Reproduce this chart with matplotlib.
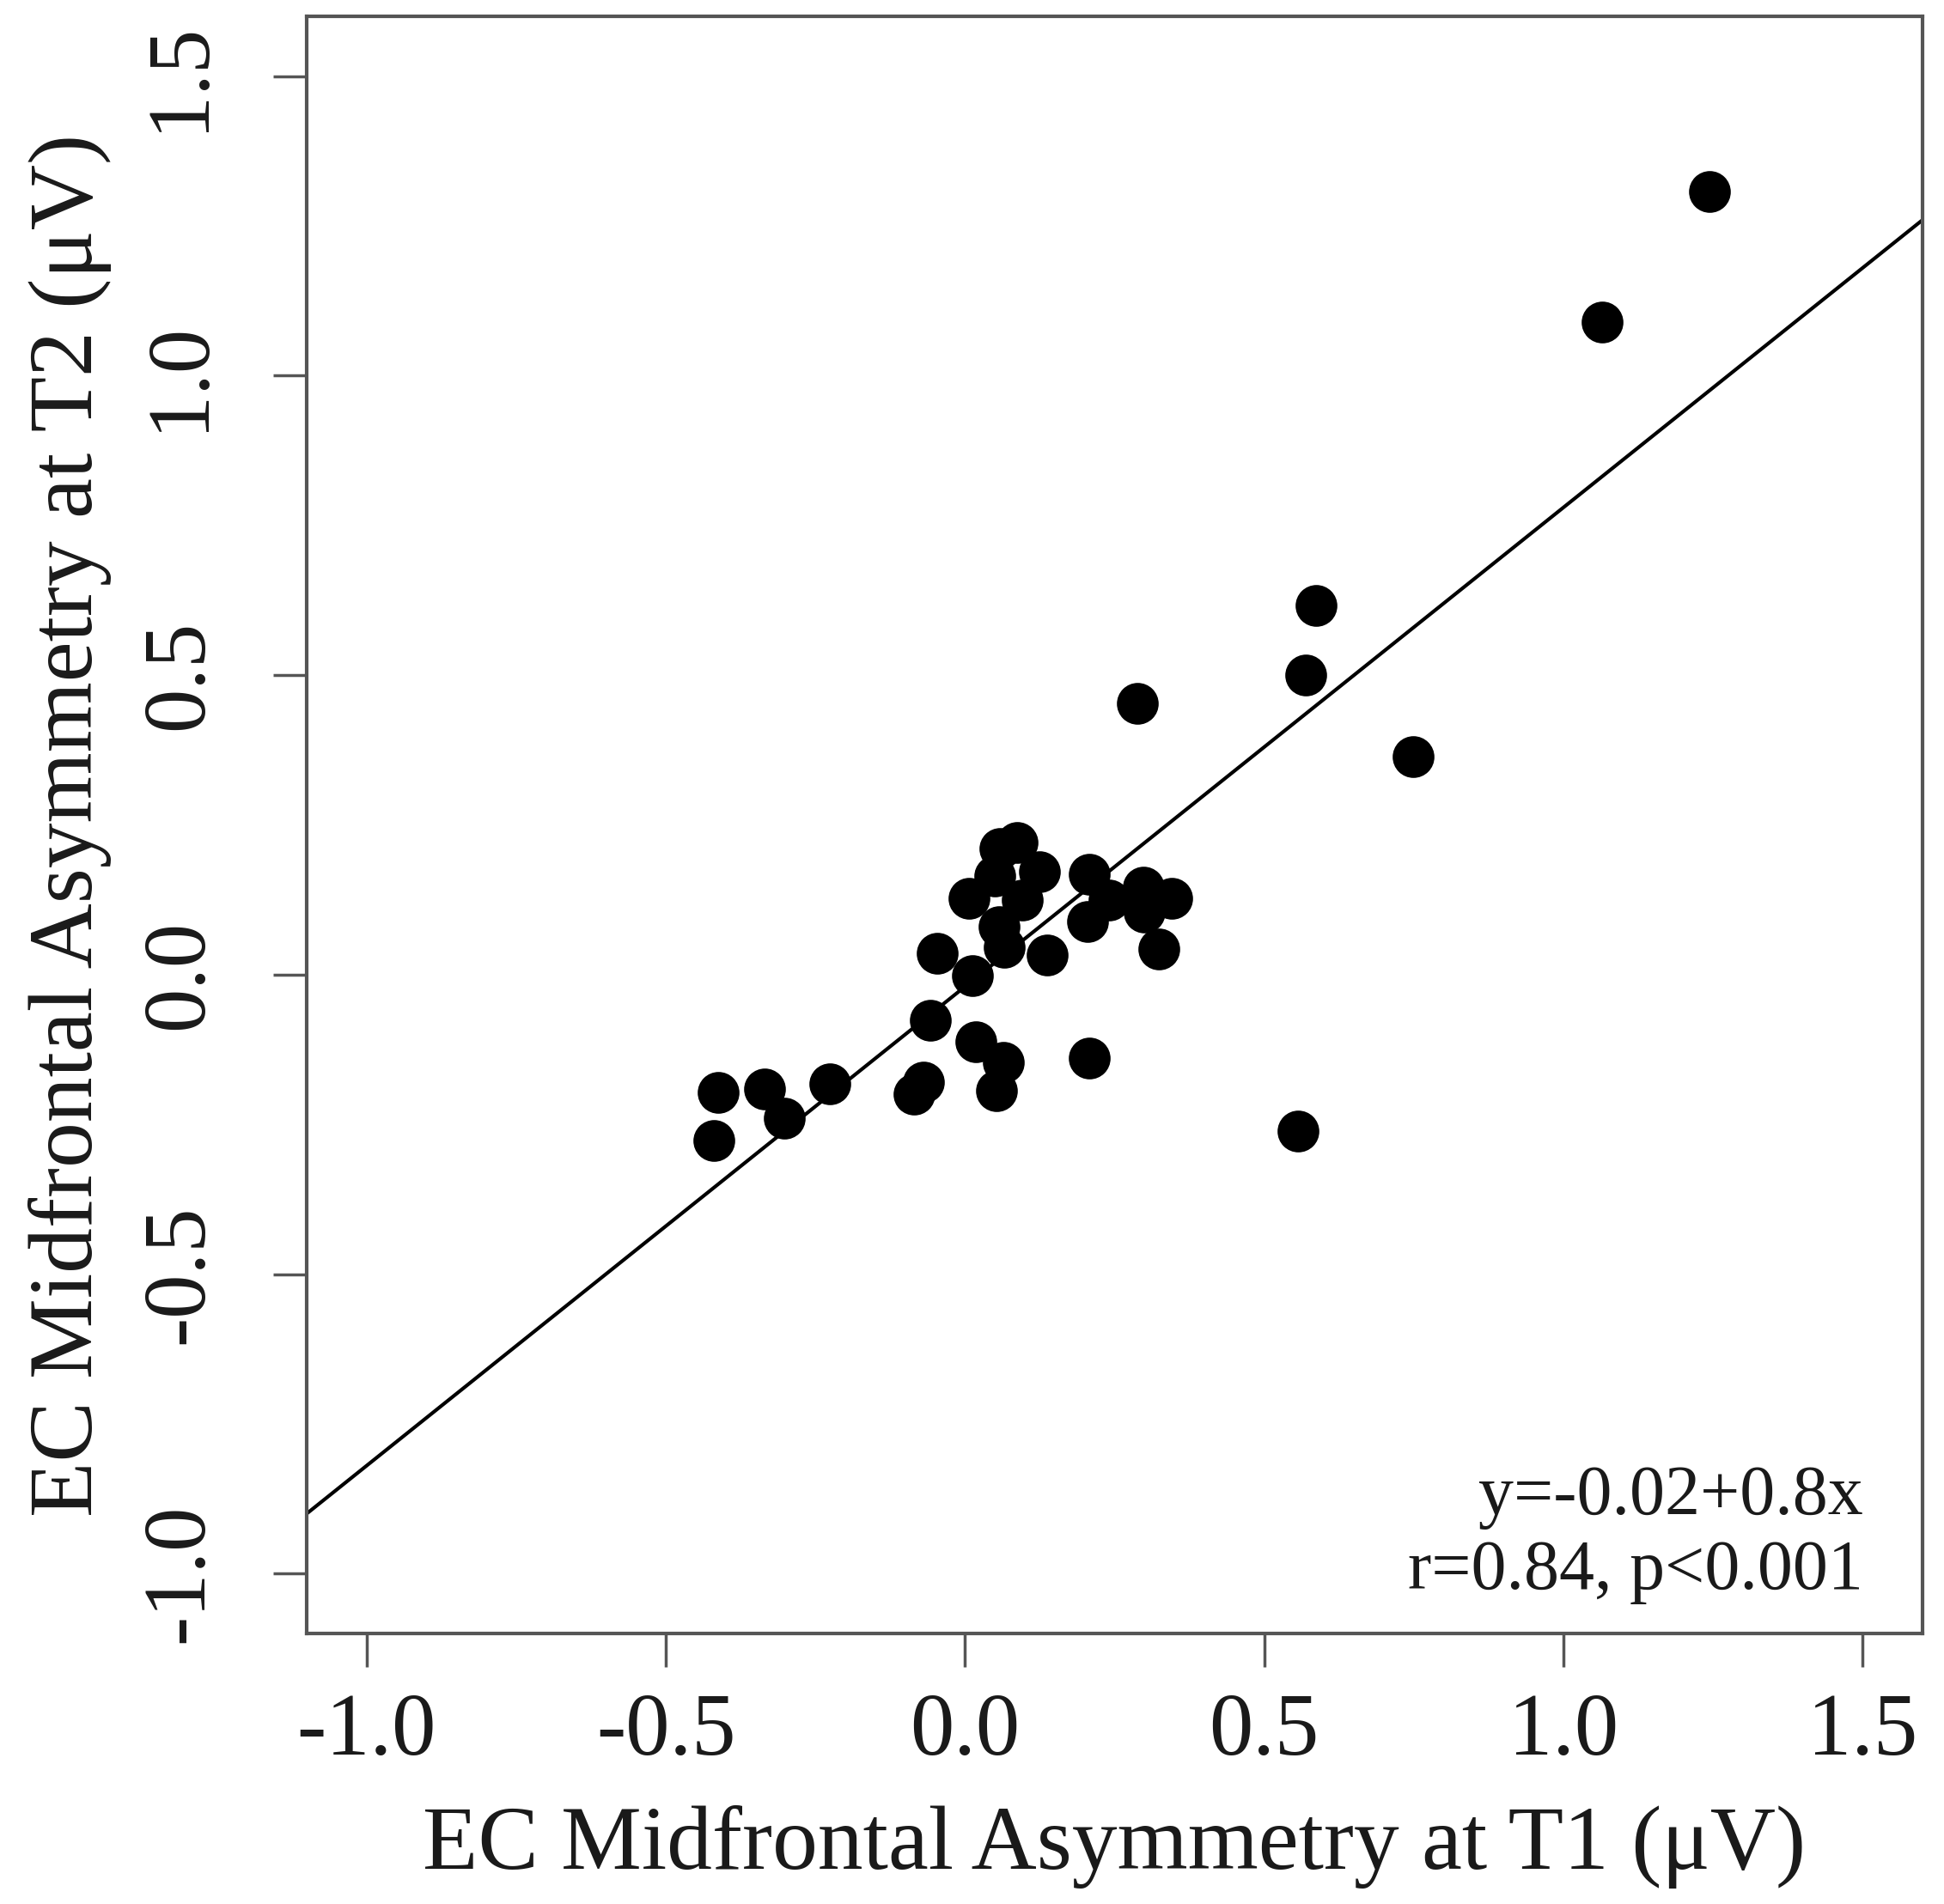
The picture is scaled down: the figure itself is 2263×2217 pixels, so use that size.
import matplotlib
matplotlib.use("Agg")
import matplotlib.pyplot as plt
import numpy as np

plt.rcParams['font.family'] = ['Liberation Serif', 'DejaVu Serif']

# Data
t1 = [1.244, 1.064, 0.586, 0.569, 0.288, 0.749, 0.557, 0.207,
      -0.413, -0.419, -0.335, -0.302, -0.226, -0.085, -0.070, -0.058,
      -0.046, 0.018, 0.064, 0.052, 0.013, 0.066, 0.138, 0.006,
      0.058, 0.087, 0.125, 0.050, 0.095, 0.057, 0.207, 0.205,
      0.240, 0.298, 0.346, 0.300, 0.324]
t2 = [1.307, 1.090, 0.616, 0.500, 0.453, 0.364, -0.261, -0.139,
      -0.196, -0.277, -0.191, -0.239, -0.183, -0.200, -0.180, -0.076,
      0.036, -0.112, -0.146, -0.194, -0.002, 0.045, 0.033, 0.127,
      0.210, 0.220, 0.172, 0.165, 0.125, 0.080, 0.167, 0.088,
      0.125, 0.146, 0.127, 0.105, 0.043]

intercept = -0.02
slope = 0.8
xticks = [-1.0, -0.5, 0.0, 0.5, 1.0, 1.5]
yticks = [-1.0, -0.5, 0.0, 0.5, 1.0, 1.5]
tick_labels = ['-1.0', '-0.5', '0.0', '0.5', '1.0', '1.5']
xlabel = 'EC Midfrontal Asymmetry at T1 (\u03bcV)'
ylabel = 'EC Midfrontal Asymmetry at T2 (\u03bcV)'
annot = ['y=-0.02+0.8x', 'r=0.84, p<0.001']

W, H = 2263, 2217
fig = plt.figure(figsize=(W / 100, H / 100), dpi=100)
ax = fig.add_axes([357 / W, 1 - 1902 / H, (2238 - 357) / W, (1902 - 19) / H])

ax.plot(t1, t2, 'o', color='black', markersize=35, markeredgewidth=0, zorder=3)

xlim = (-1.1, 1.6)
ylim = (-1.1, 1.6)
xl = np.array(xlim)
ax.plot(xl, intercept + slope * xl, color='black', lw=3.0, zorder=2)
ax.set_xlim(xlim)
ax.set_ylim(ylim)

txtc = '#1a1a1a'
ax.set_xticks(xticks)
ax.set_xticklabels(tick_labels, fontsize=74, color=txtc)
ax.set_yticks(yticks)
ax.set_yticklabels(tick_labels, fontsize=74, color=txtc, rotation=90, va='center')
ax.tick_params(axis='both', length=28, width=2.5, color='#555555', direction='out')
ax.tick_params(axis='x', pad=22)
ax.tick_params(axis='y', pad=44)
for sp in ax.spines.values():
    sp.set_linewidth(3.0)
    sp.set_color('#555555')

ax.set_xlabel(xlabel, fontsize=76, color=txtc, labelpad=26)
ax.set_ylabel(ylabel, fontsize=76, color=txtc, labelpad=24)

ax.text(0.963, 0.0844, annot[0], transform=ax.transAxes, ha='right', va='center',
        fontsize=59, color=txtc)
ax.text(0.963, 0.038, annot[1], transform=ax.transAxes, ha='right', va='center',
        fontsize=59, color=txtc)

fig.savefig('out.png', dpi=100)
